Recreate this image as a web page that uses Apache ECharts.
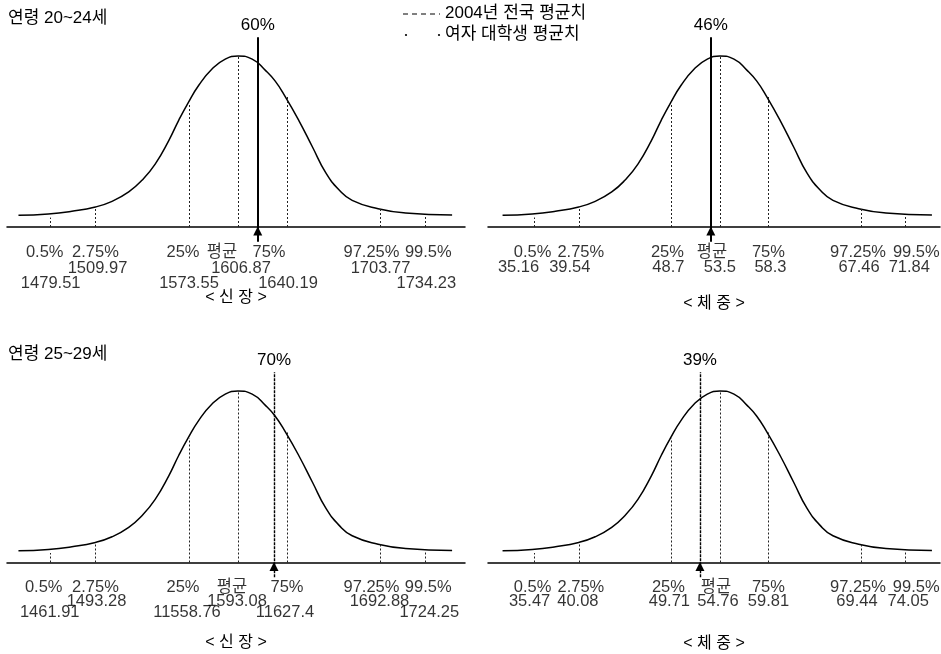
<!DOCTYPE html>
<html><head><meta charset="utf-8">
<script src="https://cdn.jsdelivr.net/npm/echarts@6/dist/echarts.min.js"></script>
<style>html,body{margin:0;padding:0;background:#fff}#c{width:941px;height:654px}</style>
</head><body><div id="c"></div>
<script>
// ---- data ----
const pctLabels = ['0.5%', '2.75%', '25%', '평균', '75%', '97.25%', '99.5%'];

const heightValues20 = [1479.51, 1509.97, 1573.55, 1606.87, 1640.19, 1703.77, 1734.23];
const heightLabels20 = ['1479.51', '1509.97', '1573.55', '1606.87', '1640.19', '1703.77', '1734.23'];
const weightValues20 = [35.16, 39.54, 48.7, 53.5, 58.3, 67.46, 71.84];
const weightLabels20 = ['35.16', '39.54', '48.7', '53.5', '58.3', '67.46', '71.84'];
const heightValues25 = [1461.91, 1493.28, 1558.76, 1593.08, 1627.4, 1692.88, 1724.25];
const heightLabels25 = ['1461.91', '1493.28', '11558.76', '1593.08', '11627.4', '1692.88', '1724.25'];
const weightValues25 = [35.47, 40.08, 49.71, 54.76, 59.81, 69.44, 74.05];
const weightLabels25 = ['35.47', '40.08', '49.71', '54.76', '59.81', '69.44', '74.05'];

// female college student averages (position of the marker line) and their percentile labels
const studentValues = [1620.3, 52.6, 1618.3, 52.68];
const studentLabels = ['60%', '46%', '70%', '39%'];

// bell curve: offset from mean in inter-quartile units, relative height
const curveD = [-4.48, -3.87, -3.39, -2.91, -2.57, -2.23, -1.96, -1.69, -1.41, -1.21, -1.02, -0.80, -0.53, -0.26, 0,
                0.29, 0.56, 0.76, 0.97, 1.24, 1.52, 1.79, 2.06, 2.33, 2.86, 3.42, 4.37];
const curveH = [0.068, 0.076, 0.092, 0.117, 0.150, 0.205, 0.273, 0.368, 0.507, 0.624, 0.725, 0.829, 0.924, 0.982, 1.0,
                0.982, 0.916, 0.853, 0.760, 0.624, 0.468, 0.318, 0.218, 0.156, 0.107, 0.082, 0.070];
// height of each dotted percentile line (relative)
const pctLineTop = [0.055, 0.117, 0.725, 1.0, 0.76, 0.107, 0.06];

// ---- layout ----
const FONT = "'Liberation Sans', 'Noto Sans CJK KR', sans-serif";
const INK = '#000';
const panels = [
  {values: heightValues20, labels: heightLabels20, s: 0, left: 7, width: 458, top: 21.8, height: 239.4,
   dMin: -4.714, dMax: 4.633, name: '< 신 장 >', nameGap: 28, stagger: true, rows: [25, 41, 56], dashed: false,
   pctDx: [-6, 0, -6, -16, -18, -9, 3], valDx: [0, 2, 0, 3, 1, 0, 1]},
  {values: weightValues20, labels: weightLabels20, s: 1, left: 488, width: 452, top: 21.8, height: 239.4,
   dMin: -4.78, dMax: 4.536, name: '< 체 중 >', nameGap: 34, stagger: false, rows: [25, 40, 40], dashed: false,
   pctDx: [-2, 2, -4, -8, 0, -3, 11], valDx: [-16, -9, -3, 0, 2, -2, 4]},
  {values: heightValues25, labels: heightLabels25, s: 2, left: 7, width: 458, top: 356.7, height: 240.1,
   dMin: -4.714, dMax: 4.633, name: '< 신 장 >', nameGap: 38, stagger: true, rows: [24.5, 38.5, 49.5], dashed: true,
   pctDx: [-7, 0, -6, -6, 0, -9, 3], valDx: [-1, 1, -2, -1, -2, -1, 4]},
  {values: weightValues25, labels: weightLabels25, s: 3, left: 488, width: 452, top: 356.7, height: 240.1,
   dMin: -4.78, dMax: 4.536, name: '< 체 중 >', nameGap: 39, stagger: false, rows: [24.5, 39, 39], dashed: true,
   pctDx: [-2, 2, -3, -4, 0, -3, 11], valDx: [-5, -1, -2, -2, 0, -4, 3]}
];
const LINE_BOTTOM = -0.086, LINE_TOP = 1.11;
const LABEL_SIZE = 16.5;

const grid = [], xAxis = [], yAxis = [], series = [];
panels.forEach((p, k) => {
  const mean = p.values[3];
  const q = p.values[4] - p.values[3];
  grid.push({left: p.left, width: p.width, top: p.top, height: p.height, outerBoundsMode: 'none', containLabel: false});
  xAxis.push({
    type: 'value', gridIndex: k, min: mean + p.dMin * q, max: mean + p.dMax * q,
    axisLine: {show: true, onZero: true, lineStyle: {color: INK, width: 1.5}},
    axisTick: {show: false}, axisLabel: {show: false}, splitLine: {show: false},
    name: p.name, nameLocation: 'middle', nameGap: p.nameGap,
    nameTextStyle: {fontFamily: FONT, fontSize: 16, color: INK}
  });
  yAxis.push({type: 'value', gridIndex: k, min: -0.2, max: 1.2, show: false, splitLine: {show: false}});

  const sv = studentValues[p.s];
  const mlData = p.values.map((v, i) => [
    {coord: [v, 0], lineStyle: {type: [2, 2], width: 1, color: '#222'}},
    {coord: [v, pctLineTop[i]]}
  ]);
  mlData.push([
    {coord: [sv, LINE_BOTTOM],
     lineStyle: p.dashed ? {type: [3, 1], width: 1.4, color: INK} : {type: 'solid', width: 2, color: INK},
     label: {show: true, position: 'end', distance: 3, formatter: studentLabels[p.s],
             fontFamily: FONT, fontSize: 17, color: INK}},
    {coord: [sv, LINE_TOP]}
  ]);

  series.push({
    type: 'line', xAxisIndex: k, yAxisIndex: k, smooth: 0.5, showSymbol: false, silent: true,
    lineStyle: {color: INK, width: 1.5},
    data: curveD.map((d, i) => [mean + d * q, curveH[i]]),
    markLine: {silent: true, symbol: ['none', 'none'], label: {show: false}, animation: false, data: mlData},
    markPoint: {silent: true, animation: false, label: {show: false},
      data: [{coord: [sv, 0], symbol: 'triangle', symbolSize: [9, 9], symbolOffset: [0, 4], itemStyle: {color: INK}}]}
  });
  // percentile labels
  series.push({
    type: 'scatter', xAxisIndex: k, yAxisIndex: k, silent: true, symbolSize: 1,
    itemStyle: {color: 'rgba(0,0,0,0)'},
    data: p.values.map((v, i) => ({value: [v, 0],
      label: {formatter: pctLabels[i], offset: [p.pctDx[i], p.rows[0]]}})),
    label: {show: true, position: 'inside', fontFamily: FONT, fontSize: LABEL_SIZE, color: INK}
  });
  // value labels
  series.push({
    type: 'scatter', xAxisIndex: k, yAxisIndex: k, silent: true, symbolSize: 1,
    itemStyle: {color: 'rgba(0,0,0,0)'},
    data: p.values.map((v, i) => ({value: [v, 0], label: {formatter: p.labels[i],
      offset: [p.valDx[i], p.stagger ? (i % 2 === 1 ? p.rows[1] : p.rows[2]) : p.rows[1]]}})),
    label: {show: true, position: 'inside', fontFamily: FONT, fontSize: LABEL_SIZE, color: INK}
  });
});

const chart = echarts.init(document.getElementById('c'), null, {renderer: 'canvas'});
chart.setOption({
  backgroundColor: '#fff',
  animation: false,
  grid, xAxis, yAxis, series,
  graphic: [
    {type: 'text', left: 8, top: 10, style: {text: '연령 20~24세', font: '17px ' + FONT, fill: INK}},
    {type: 'text', left: 8, top: 346, style: {text: '연령 25~29세', font: '17px ' + FONT, fill: INK}},
    {type: 'line', shape: {x1: 403, y1: 14, x2: 440, y2: 14}, style: {stroke: INK, lineWidth: 1, lineDash: [5, 4]}},
    {type: 'text', left: 445, top: 5, style: {text: '2004년 전국 평균치', font: '17px ' + FONT, fill: INK}},
    {type: 'circle', shape: {cx: 406, cy: 35, r: 1.1}, style: {fill: INK}},
    {type: 'circle', shape: {cx: 439, cy: 35, r: 1.1}, style: {fill: INK}},
    {type: 'text', left: 445, top: 26, style: {text: '여자 대학생 평균치', font: '17px ' + FONT, fill: INK}}
  ]
});
</script></body></html>
